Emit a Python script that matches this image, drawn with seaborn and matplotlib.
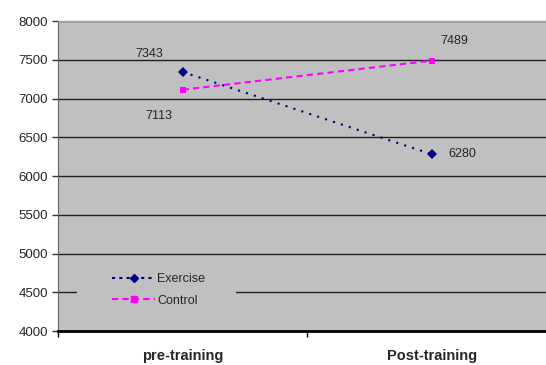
import matplotlib
matplotlib.use("Agg")
import matplotlib.pyplot as plt
import seaborn as sns
import pandas as pd
from matplotlib.lines import Line2D
from matplotlib.patches import Rectangle

categories = ["pre-training", "Post-training"]
exercise = [7343, 6280]
control = [7113, 7489]
series_names = ["Exercise", "Control"]
yticks = [4000, 4500, 5000, 5500, 6000, 6500, 7000, 7500, 8000]

df = pd.DataFrame({
    "x": [0, 1, 0, 1],
    "value": exercise + control,
    "group": [series_names[0]] * 2 + [series_names[1]] * 2,
})

sns.set_style("white")
plt.rcParams['font.family'] = ['Liberation Sans', 'DejaVu Sans']

fig = plt.figure(figsize=(5.46, 3.65), dpi=100)
ax = fig.add_axes([58 / 546, (365 - 331) / 365, (556.5 - 58) / 546, (331 - 21) / 365])
ax.set_facecolor("#C0C0C0")

palette = {"Exercise": "#000080", "Control": "#FF00FF"}
sns.lineplot(data=df, x="x", y="value", hue="group", style="group",
             palette=palette, markers={"Exercise": "D", "Control": "s"},
             dashes={"Exercise": (1, 3), "Control": (3, 2)},
             markersize=5, linewidth=1.5, markeredgewidth=0, ax=ax, legend=False)

ax.set_xlim(-0.5, 1.5)
ax.set_ylim(4000, 8000)
ax.set_yticks(yticks)
ax.set_yticklabels([str(t) for t in yticks], fontsize=9.5)
ax.yaxis.grid(True, color="#202020", linewidth=1)
ax.set_axisbelow(True)
ax.set_xticks([-0.5, 0.5, 1.5])
ax.set_xticklabels([])
ax.set_xlabel("")
ax.set_ylabel("")
ax.tick_params(axis="y", direction="out", length=4, width=1, color="#333333", left=True, pad=3)
ax.tick_params(axis="x", direction="out", length=4, width=1, color="black", bottom=True)
for i, c in enumerate(categories):
    ax.text(i, -0.08, c, transform=ax.get_xaxis_transform(), ha="center", va="center",
            fontsize=10.5, fontweight="bold")

for s in ["top", "right"]:
    ax.spines[s].set_color("#A0A0A0")
    ax.spines[s].set_linewidth(1)
ax.spines["left"].set_color("#606060")
ax.spines["bottom"].set_color("black")
ax.spines["bottom"].set_linewidth(2)

# value labels
ax.annotate(str(exercise[0]), (0, exercise[0]), xytext=(-24, 13), textcoords="offset points",
            ha="center", va="center", fontsize=9)
ax.annotate(str(control[0]), (0, control[0]), xytext=(-17, -19), textcoords="offset points",
            ha="center", va="center", fontsize=9)
ax.annotate(str(control[1]), (1, control[1]), xytext=(16, 14), textcoords="offset points",
            ha="center", va="center", fontsize=9)
ax.annotate(str(exercise[1]), (1, exercise[1]), xytext=(22, 0), textcoords="offset points",
            ha="center", va="center", fontsize=9)

# legend background box (hides part of the gridline like the original)
ax.add_patch(Rectangle((0.038, 0.061), 0.32, 0.161, transform=ax.transAxes,
                       facecolor="#C0C0C0", edgecolor="none", zorder=1.5))

handles = [
    Line2D([], [], color=palette["Exercise"], linestyle=(0, (1.5, 2)), marker="D", markersize=4, linewidth=1.5),
    Line2D([], [], color=palette["Control"], linestyle=(0, (3, 2)), marker="s", markersize=4, linewidth=1.5),
]
leg = ax.legend(handles, series_names, loc="lower left",
                bbox_to_anchor=(0.084, 0.038, 0.285, 0.16), mode="expand",
                frameon=False, fontsize=9, handlelength=3.4, handletextpad=0.2,
                borderpad=0.5, labelspacing=0.75)

fig.savefig("out.png", dpi=100)
